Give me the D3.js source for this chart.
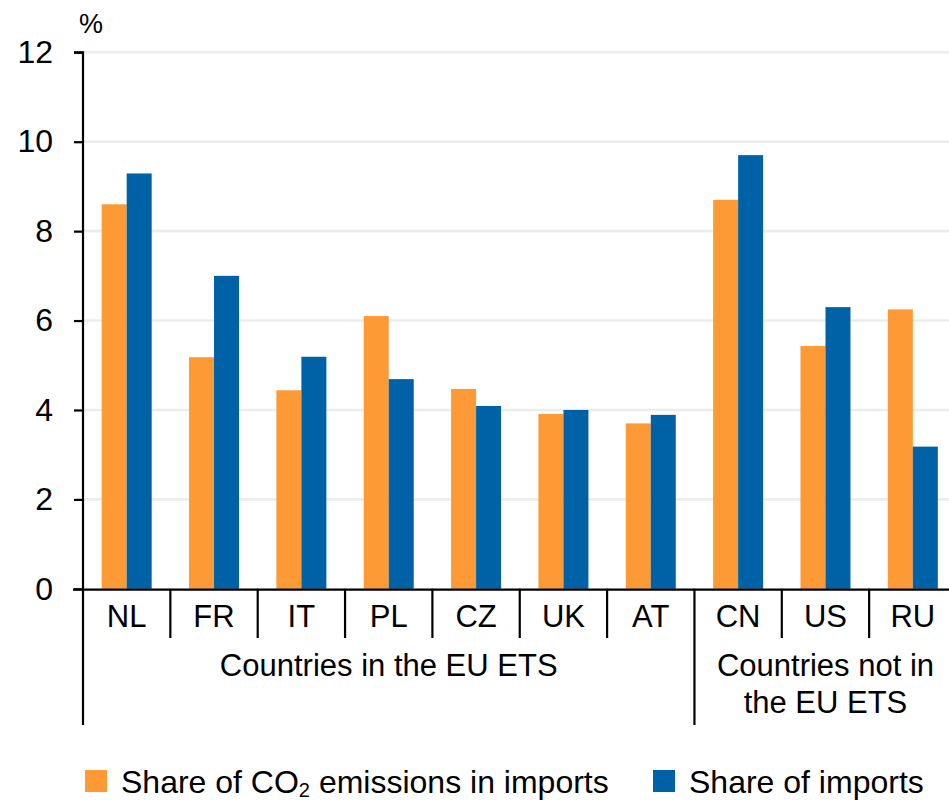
<!DOCTYPE html>
<html>
<head>
<meta charset="utf-8">
<script src="https://cdn.jsdelivr.net/npm/d3@7"></script>
<style>
  html, body { margin: 0; padding: 0; background: #fff; }
  svg { display: block; font-family: "Liberation Sans", Arial, sans-serif; }
</style>
</head>
<body>
<svg id="chart" width="949" height="800"></svg>
<script>
// ---- Data ----
const categories = ["NL", "FR", "IT", "PL", "CZ", "UK", "AT", "CN", "US", "RU"];
const co2Share = [8.6, 5.18, 4.44, 6.1, 4.47, 3.91, 3.7, 8.7, 5.43, 6.25];
const importShare = [9.29, 7.0, 5.19, 4.69, 4.09, 4.0, 3.89, 9.7, 6.3, 3.18];
const seriesNames = ["Share of CO\u2082 emissions in imports", "Share of imports"];
const groups = [
  { name: ["Countries in the EU ETS"], from: "NL", to: "AT" },
  { name: ["Countries not in", "the EU ETS"], from: "CN", to: "RU" }
];
const yTicks = [0, 2, 4, 6, 8, 10, 12];
const yUnit = "%";

// ---- Styles ----
const colors = ["#FD9A35", "#0062A6"];
const fontSize = 31;

const svg = d3.select("#chart");
const W = 949;

const x = d3.scaleBand().domain(categories).range([83, 956.5]).paddingInner(0).paddingOuter(0);
const groupW = 50;
const x1 = d3.scaleBand().domain([0, 1]).range([0, groupW]);
const y = d3.scaleLinear().domain([0, 12]).range([588.8, 52.3]);

// gridlines
svg.append("g").selectAll("line")
  .data(yTicks.filter(d => d > 0))
  .join("line")
  .attr("x1", 83).attr("x2", W)
  .attr("y1", d => y(d)).attr("y2", d => y(d))
  .attr("stroke", "#ececec").attr("stroke-width", 2.6);

// bars
const data = categories.map((c, i) => ({ c, vals: [co2Share[i], importShare[i]] }));
const off = (x.bandwidth() - groupW) / 2;
const gBars = svg.append("g");
data.forEach(d => {
  d.vals.forEach((v, k) => {
    gBars.append("rect")
      .attr("x", x(d.c) + off + x1(k))
      .attr("width", x1.bandwidth())
      .attr("y", y(v))
      .attr("height", y(0) - y(v))
      .attr("fill", colors[k]);
  });
});

// y axis
const yAxis = d3.axisLeft(y).tickValues(yTicks).tickSize(9).tickPadding(21).tickFormat(d3.format("d"));
const gy = svg.append("g").attr("transform", "translate(83,0)").call(yAxis);
gy.select(".domain").attr("stroke", "#000").attr("stroke-width", 2.2).attr("d", `M-9,${y(12)}H0V${y(0)}`);
gy.selectAll(".tick line").attr("stroke", "#000").attr("stroke-width", 2.2);
gy.selectAll(".tick text").attr("font-size", 32).attr("fill", "#000")
  .attr("font-family", "'Liberation Sans', Arial, sans-serif");

svg.append("text").attr("x", 91).attr("y", 33).attr("text-anchor", "middle")
  .attr("font-size", 27).text(yUnit);

// category axis baseline
svg.append("line").attr("x1", 73).attr("x2", W).attr("y1", y(0) + 0.8).attr("y2", y(0) + 0.8)
  .attr("stroke", "#000").attr("stroke-width", 2.4);

// separators
const groupStarts = groups.map(g => g.from);
categories.forEach(c => {
  const long = groupStarts.includes(c);
  svg.append("line")
    .attr("x1", x(c)).attr("x2", x(c))
    .attr("y1", y(0)).attr("y2", long ? 725 : 638)
    .attr("stroke", "#000").attr("stroke-width", 2.2);
});

// category labels
svg.append("g").selectAll("text").data(categories).join("text")
  .attr("x", d => x(d) + x.bandwidth() / 2)
  .attr("y", 627)
  .attr("text-anchor", "middle")
  .attr("font-size", fontSize)
  .text(d => d);

// group labels
groups.forEach(g => {
  const x0 = x(g.from), xEnd = x(g.to) + x.bandwidth();
  const t = svg.append("text").attr("text-anchor", "middle").attr("font-size", fontSize);
  g.name.forEach((line, i) => {
    t.append("tspan").attr("x", (x0 + xEnd) / 2).attr("y", 676 + i * 37).text(line);
  });
});

// legend
const legendPos = [{ rx: 85, tx: 121 }, { rx: 653, tx: 689 }];
seriesNames.forEach((name, k) => {
  svg.append("rect").attr("x", legendPos[k].rx).attr("y", 770).attr("width", 22).attr("height", 22)
    .attr("fill", colors[k]);
  const t = svg.append("text").attr("x", legendPos[k].tx).attr("y", 793).attr("font-size", 32);
  if (name.includes("\u2082")) {
    const parts = name.split("\u2082");
    t.append("tspan").text(parts[0]);
    t.append("tspan").attr("font-size", 20).attr("dy", 4).text("2");
    t.append("tspan").attr("dy", -4).text(parts[1]);
  } else {
    t.text(name);
  }
});
</script>
</body>
</html>
